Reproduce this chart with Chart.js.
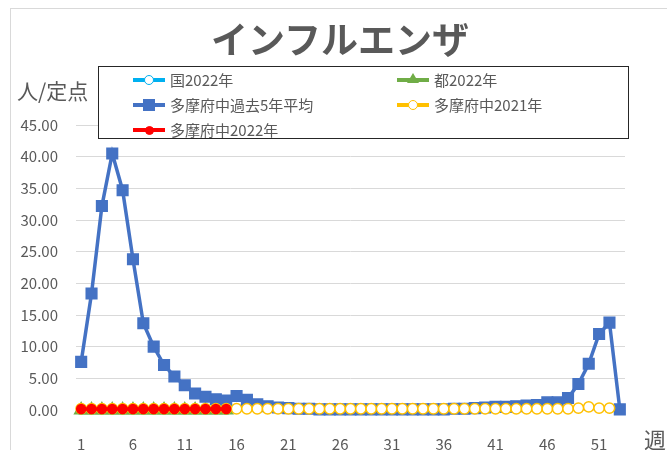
<!DOCTYPE html>
<html>
<head>
<meta charset="utf-8">
<script src="https://cdn.jsdelivr.net/npm/chart.js@4"></script>
<style>
    html, body { margin: 0; padding: 0; background: #fff; overflow: hidden; }
    body { width: 667px; height: 450px; position: relative; font-family: "Noto Sans CJK JP", sans-serif; color: #595959; }
    .frame { position: absolute; left: 10px; top: 8px; width: 720px; height: 520px; border: 1px solid #d9d9d9; box-sizing: border-box; }
    #chart { position: absolute; left: 0; top: 0; }
    .title { position: absolute; left: 0; width: 680px; top: 14px; text-align: center; font-size: 37px; font-weight: bold; line-height: 48px; }
    .ytitle { position: absolute; left: 17px; top: 76px; font-size: 21px; line-height: 28px; }
    .xtitle { position: absolute; left: 644px; top: 424px; font-size: 22px; line-height: 28px; }
    .legend { position: absolute; left: 98px; top: 66px; width: 531px; height: 73px; border: 1px solid #262626; background: #fff; box-sizing: border-box; }
    .item { position: absolute; height: 24px; font-size: 15px; line-height: 24px; white-space: nowrap; }
    .item .ln { position: absolute; left: 0; top: 10px; width: 32px; height: 4px; }
    .item .mk { position: absolute; box-sizing: border-box; }
    .item .tx { position: absolute; left: 37px; top: 0; }
</style>
</head>
<body>
<div class="frame"></div>
<canvas id="chart" width="667" height="450"></canvas>
<div class="title">インフルエンザ</div>
<div class="ytitle">人/定点</div>
<div class="xtitle">週</div>
<div class="legend" id="legend"></div>
<script>
// weeks 1..53
const weeks = [];
for (let w = 1; w <= 53; w++) weeks.push(w);

const yTicks = [0, 5, 10, 15, 20, 25, 30, 35, 40, 45];

// 国2022年 (hidden under the other 2022 lines)
const kuni2022 = [0.02, 0.02, 0.02, 0.02, 0.02, 0.02, 0.02, 0.02, 0.02, 0.02, 0.02, 0.02, 0.02, 0.02, 0.02];
// 都2022年
const to2022 = [0, 0, 0, 0, 0, 0, 0, 0, 0, 0, 0, 0, 0, 0, 0];
// 多摩府中過去5年平均
const avg5 = [7.6, 18.4, 32.2, 40.5, 34.7, 23.8, 13.7, 10.0, 7.1, 5.3,
    3.9, 2.6, 2.1, 1.7, 1.5, 2.2, 1.6, 0.9, 0.6, 0.4,
    0.3, 0.2, 0.2, 0.1, 0.1, 0.1, 0.1, 0.1, 0.1, 0.1,
    0.1, 0.1, 0.1, 0.1, 0.1, 0.1, 0.2, 0.2, 0.3, 0.4,
    0.5, 0.5, 0.6, 0.7, 0.8, 1.2, 1.2, 1.9, 4.1, 7.3,
    12.0, 13.8, 0.1];
// 多摩府中2021年
const tama2021 = [0.2, 0.2, 0.2, 0.2, 0.2, 0.2, 0.2, 0.2, 0.2, 0.2,
    0.2, 0.2, 0.2, 0.2, 0.2, 0.2, 0.2, 0.2, 0.2, 0.2,
    0.2, 0.2, 0.2, 0.2, 0.2, 0.2, 0.2, 0.2, 0.2, 0.2,
    0.2, 0.2, 0.2, 0.2, 0.2, 0.2, 0.2, 0.2, 0.2, 0.2,
    0.2, 0.2, 0.2, 0.2, 0.2, 0.2, 0.2, 0.2, 0.3, 0.5,
    0.3, 0.3];
// 多摩府中2022年
const tama2022 = [0.15, 0.15, 0.15, 0.15, 0.15, 0.15, 0.15, 0.15, 0.15, 0.15, 0.15, 0.15, 0.15, 0.15, 0.15];

const series = [
    { label: '国2022年', data: kuni2022, color: '#00B0F0', style: 'circle', fill: '#fff', radius: 4.5, order: 5 },
    { label: '都2022年', data: to2022, color: '#70AD47', style: 'triangle', fill: '#70AD47', radius: 7.5, order: 4 },
    { label: '多摩府中過去5年平均', data: avg5, color: '#4472C4', style: 'rect', fill: '#4472C4', radius: 7.5, order: 3 },
    { label: '多摩府中2021年', data: tama2021, color: '#FFC000', style: 'circle', fill: '#fff', radius: 5.2, order: 2 },
    { label: '多摩府中2022年', data: tama2022, color: '#FF0000', style: 'circle', fill: '#FF0000', radius: 4.5, order: 1 }
];

const FONT = '"Noto Sans CJK JP", sans-serif';

new Chart(document.getElementById('chart'), {
    type: 'line',
    data: {
        labels: weeks,
        datasets: series.map(s => ({
            label: s.label,
            data: s.data,
            borderColor: s.color,
            borderWidth: 3.5,
            pointStyle: s.style,
            pointRadius: s.radius,
            pointBackgroundColor: s.fill,
            pointBorderColor: s.color,
            pointBorderWidth: 1.5,
            order: s.order,
            clip: false,
            tension: 0
        }))
    },
    options: {
        responsive: false,
        animation: false,
        layout: { padding: { top: 125, right: 42, left: 0, bottom: 0 } },
        plugins: {
            legend: { display: false },
            tooltip: { enabled: false }
        },
        scales: {
            x: {
                offset: true,
                grid: { display: false },
                border: { display: false },
                ticks: {
                    autoSkip: false,
                    maxRotation: 0,
                    padding: 17,
                    color: '#595959',
                    font: { family: FONT, size: 15 },
                    callback: (v, i) => i % 5 === 0 ? weeks[i] : ''
                },
                afterFit: scale => { scale.height = 40; }
            },
            y: {
                min: 0,
                max: 45,
                afterBuildTicks: scale => { scale.ticks = yTicks.map(v => ({ value: v })); },
                grid: { color: '#d9d9d9', lineWidth: 1, drawTicks: false },
                border: { display: false },
                ticks: {
                    padding: 18,
                    color: '#595959',
                    font: { family: FONT, size: 15 },
                    callback: v => v.toFixed(2)
                },
                afterFit: scale => { scale.width = 76; }
            }
        }
    }
});

// Legend box drawn as HTML, placed over the plot like the original
const legendPos = [
    [34, 0], [298, 0],
    [34, 25], [298, 25],
    [34, 50]
];
const legendEl = document.getElementById('legend');
series.forEach((s, i) => {
    const item = document.createElement('div');
    item.className = 'item';
    item.style.left = legendPos[i][0] + 'px';
    item.style.top = (legendPos[i][1] + 1) + 'px';
    const ln = document.createElement('span');
    ln.className = 'ln';
    ln.style.background = s.color;
    item.appendChild(ln);
    const mk = document.createElement('span');
    mk.className = 'mk';
    if (s.style === 'triangle') {
        mk.style.left = '10px';
        mk.style.top = '5px';
        mk.style.width = '0';
        mk.style.height = '0';
        mk.style.borderLeft = '6px solid transparent';
        mk.style.borderRight = '6px solid transparent';
        mk.style.borderBottom = '10px solid ' + s.color;
    } else if (s.style === 'rect') {
        mk.style.left = '10px';
        mk.style.top = '6px';
        mk.style.width = '12px';
        mk.style.height = '12px';
        mk.style.background = s.color;
    } else {
        const d = s.fill === '#fff' ? 10 : 9;
        mk.style.left = (16 - d / 2) + 'px';
        mk.style.top = (12 - d / 2) + 'px';
        mk.style.width = d + 'px';
        mk.style.height = d + 'px';
        mk.style.borderRadius = '50%';
        mk.style.background = s.fill;
        mk.style.border = '1.5px solid ' + s.color;
    }
    item.appendChild(mk);
    const tx = document.createElement('span');
    tx.className = 'tx';
    tx.textContent = s.label;
    item.appendChild(tx);
    legendEl.appendChild(item);
});
</script>
</body>
</html>
